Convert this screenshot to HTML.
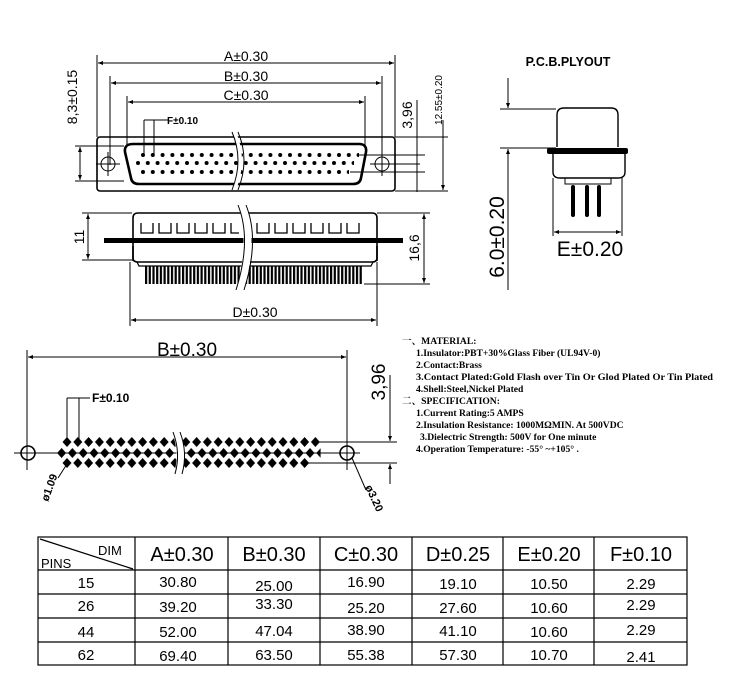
<!DOCTYPE html>
<html><head><meta charset="utf-8"><style>
html,body{margin:0;padding:0;background:#fff;}
svg{display:block;}
.t{font-family:"Liberation Sans",sans-serif;}
.s{font-family:"Liberation Serif","Noto Serif CJK SC",serif;font-weight:bold;font-size:9.6px;}
</style></head><body>
<svg width="750" height="700" viewBox="0 0 750 700" xmlns="http://www.w3.org/2000/svg">
<defs>
<marker id="ar" viewBox="0 0 10 10" refX="10" refY="5" markerWidth="8" markerHeight="5" orient="auto-start-reverse"><path d="M0,1 L10,5 L0,9z" fill="#000"/></marker>
<pattern id="d1" x="141" y="153" width="9.8" height="100" patternUnits="userSpaceOnUse"><circle cx="2" cy="2" r="2"/></pattern>
<pattern id="d2" x="136" y="161" width="9.8" height="100" patternUnits="userSpaceOnUse"><circle cx="2" cy="2" r="2"/></pattern>
<pattern id="d3" x="141" y="170" width="9.8" height="100" patternUnits="userSpaceOnUse"><circle cx="2" cy="2" r="2"/></pattern>
<pattern id="pins" x="145" y="0" width="3.7" height="30" patternUnits="userSpaceOnUse"><rect x="0" y="0" width="2.2" height="30" fill="#000"/></pattern>
<pattern id="b1" x="62" y="437" width="10.8" height="100" patternUnits="userSpaceOnUse"><path d="M5,0 L9.5,5 L5,10 L0.5,5z" fill="#000"/></pattern>
<pattern id="b2" x="56.6" y="448" width="10.8" height="100" patternUnits="userSpaceOnUse"><path d="M5,0 L9.5,5 L5,10 L0.5,5z" fill="#000"/></pattern>
<pattern id="b3" x="62" y="458" width="10.8" height="100" patternUnits="userSpaceOnUse"><path d="M5,0 L9.5,5 L5,10 L0.5,5z" fill="#000"/></pattern>
</defs>
<g stroke="#000" fill="none" stroke-width="1">
<line x1="97" y1="55" x2="97" y2="137"/><line x1="395" y1="55" x2="395" y2="137"/>
<line x1="98" y1="63" x2="394" y2="63" marker-start="url(#ar)" marker-end="url(#ar)"/>
<line x1="110" y1="76" x2="110" y2="165"/><line x1="382" y1="76" x2="382" y2="165"/>
<line x1="111" y1="83" x2="381" y2="83" marker-start="url(#ar)" marker-end="url(#ar)"/>
<line x1="127" y1="96" x2="127" y2="147"/><line x1="365" y1="96" x2="365" y2="147"/>
<line x1="128" y1="102" x2="364" y2="102" marker-start="url(#ar)" marker-end="url(#ar)"/>
<rect x="97" y="137" width="298" height="54" rx="3" stroke-width="1.6"/>
<path d="M133,144 L359,144 Q367,144 366,152 L361,178 Q360,184 353,184 L139,184 Q132,184 131,178 L125,152 Q124,144 133,144z" stroke-width="2.6"/>
<circle cx="108" cy="164" r="7"/><line x1="96" y1="164" x2="120" y2="164"/><line x1="108" y1="152" x2="108" y2="176"/>
<circle cx="382" cy="164" r="7"/><line x1="370" y1="164" x2="420" y2="164"/><line x1="382" y1="152" x2="382" y2="176"/>
<line x1="144" y1="120" x2="144" y2="155"/><line x1="154" y1="120" x2="154" y2="155"/><line x1="144" y1="120" x2="168" y2="120"/>
<line x1="75" y1="146" x2="124" y2="146"/><line x1="75" y1="181" x2="124" y2="181"/>
<line x1="80" y1="147" x2="80" y2="180" marker-start="url(#ar)" marker-end="url(#ar)"/>
<line x1="358" y1="155" x2="425" y2="155"/><line x1="350" y1="172" x2="425" y2="172"/>
<line x1="417" y1="100" x2="417" y2="192"/>
<line x1="395" y1="137" x2="448" y2="137"/><line x1="395" y1="191" x2="448" y2="191"/>
<line x1="443" y1="120" x2="443" y2="190" marker-end="url(#ar)"/>
</g>
<rect x="141" y="153" width="218" height="4" fill="url(#d1)"/>
<rect x="136" y="161" width="218" height="4" fill="url(#d2)"/>
<rect x="141" y="170" width="208" height="4" fill="url(#d3)"/>
<g stroke="#000" fill="none" stroke-width="1.2">
<path d="M133,261 L133,218 Q133,213 138,213 L372,213 Q377,213 377,218 L377,261" stroke-width="1.6"/>
<path d="M133,246 L133,258 Q133,262 138,262 L372,262 Q377,262 377,258 L377,246" stroke-width="1.6"/>
<path d="M137,262 L139,266 L371,266 L373,262"/>
<g stroke-width="1.3">
<path d="M141,223 v10 h12 v-10 M159,223 v10 h12 v-10 M177,223 v10 h12 v-10 M195,223 v10 h12 v-10 M213,223 v10 h12 v-10 M231,223 v10 h8 M257,223 v10 h12 v-10 M275,223 v10 h12 v-10 M293,223 v10 h12 v-10 M311,223 v10 h12 v-10 M329,223 v10 h12 v-10 M347,223 v10 h12 v-10"/>
</g>
<line x1="82" y1="213" x2="132" y2="213" stroke-width="1"/><line x1="82" y1="260" x2="132" y2="260" stroke-width="1"/>
<line x1="88" y1="214" x2="88" y2="259" stroke-width="1" marker-start="url(#ar)" marker-end="url(#ar)"/>
<line x1="377" y1="213" x2="430" y2="213" stroke-width="1"/><line x1="364" y1="284" x2="430" y2="284" stroke-width="1"/>
<line x1="424" y1="214" x2="424" y2="283" stroke-width="1" marker-start="url(#ar)" marker-end="url(#ar)"/>
<line x1="130" y1="262" x2="130" y2="326" stroke-width="1"/><line x1="377" y1="262" x2="377" y2="326" stroke-width="1"/>
<line x1="131" y1="320" x2="376" y2="320" stroke-width="1" marker-start="url(#ar)" marker-end="url(#ar)"/>
</g>
<rect x="104" y="238" width="299" height="5" fill="#000"/>
<rect x="145" y="266" width="218" height="18" fill="url(#pins)"/>
<path d="M232,132 Q244,160 232,190 L236,190 Q248,160 236,132z" fill="#fff"/>
<path d="M238,205 Q250,240 236,290 L244,290 Q258,240 246,205z" fill="#fff"/>
<g stroke="#000" fill="none" stroke-width="1"><path d="M232,132 Q244,160 232,190"/><path d="M238,132 Q250,160 238,190"/><path d="M238,205 Q252,240 236,290"/><path d="M246,205 Q260,240 244,290"/></g>
<g stroke="#000" fill="none" stroke-width="1.4">
<path d="M557,147 L557,115 Q557,108 564,108 L611,108 Q618,108 618,115 L618,147"/>
<path d="M553,153 L553,172 Q553,178 560,178 L618,178 Q625,178 625,172 L625,153"/>
<path d="M565,178 L565,184 L611,184 L611,178" stroke-width="1"/>
<line x1="500" y1="109" x2="556" y2="109" stroke-width="1"/><line x1="500" y1="148" x2="556" y2="148" stroke-width="1"/>
<line x1="508" y1="78" x2="508" y2="108" stroke-width="1" marker-end="url(#ar)"/>
<line x1="508" y1="290" x2="508" y2="149" stroke-width="1" marker-end="url(#ar)"/>
<line x1="553" y1="178" x2="553" y2="236" stroke-width="1"/><line x1="622" y1="178" x2="622" y2="236" stroke-width="1"/>
<line x1="554" y1="232" x2="621" y2="232" stroke-width="1" marker-start="url(#ar)" marker-end="url(#ar)"/>
</g>
<rect x="547" y="148" width="81" height="6" rx="2" fill="#000"/>
<rect x="571" y="185" width="4" height="32" rx="2" fill="#000"/>
<rect x="585" y="185" width="4" height="32" rx="2" fill="#000"/>
<rect x="597" y="185" width="4" height="32" rx="2" fill="#000"/>
<g stroke="#000" fill="none" stroke-width="1">
<line x1="27" y1="350" x2="27" y2="470"/><line x1="347" y1="350" x2="347" y2="470"/>
<line x1="28" y1="357" x2="346" y2="357" marker-start="url(#ar)" marker-end="url(#ar)"/>
<line x1="14" y1="453" x2="360" y2="453"/>
<circle cx="28" cy="453" r="7" stroke-width="1.6"/><circle cx="347" cy="453" r="7" stroke-width="1.6"/>
<line x1="67" y1="398" x2="67" y2="442"/><line x1="79" y1="398" x2="79" y2="442"/><line x1="67" y1="398" x2="90" y2="398"/>
<line x1="315" y1="442" x2="397" y2="442"/><line x1="302" y1="463" x2="397" y2="463"/>
<line x1="390" y1="375" x2="390" y2="441" marker-end="url(#ar)"/>
<line x1="390" y1="484" x2="390" y2="464" marker-end="url(#ar)"/>
<line x1="67" y1="464" x2="58" y2="478"/>
<line x1="352" y1="458" x2="366" y2="490"/>
</g>
<rect x="62" y="437" width="259" height="10" fill="url(#b1)"/>
<rect x="56.6" y="448" width="264" height="10" fill="url(#b2)"/>
<rect x="62" y="458" width="248" height="10" fill="url(#b3)"/>
<path d="M172,432 Q180,453 174,474 L182,474 Q188,453 180,432z" fill="#fff"/>
<g stroke="#000" fill="none"><path d="M173,432 Q181,453 175,474"/><path d="M180,432 Q188,453 182,474"/></g>
<g class="t" fill="#000" font-size="14" text-anchor="middle">
<text x="246" y="61">A±0.30</text>
<text x="246" y="81">B±0.30</text>
<text x="246" y="100">C±0.30</text>
<text x="255" y="317">D±0.30</text>
<text transform="translate(77,97) rotate(-90)">8,3±0.15</text>
<text transform="translate(412,115) rotate(-90)">3,96</text>
<text transform="translate(442,100) rotate(-90)" font-size="10">12.55±0.20</text>
<text transform="translate(84,237) rotate(-90)">11</text>
<text transform="translate(419,248) rotate(-90)">16,6</text>
<text x="590" y="256" font-size="21">E±0.20</text>
<text transform="translate(504,237) rotate(-90)" font-size="21">6.0±0.20</text>
<text x="568" y="66" font-size="12.5" font-weight="bold">P.C.B.PLYOUT</text>
<text x="187" y="356" font-size="19">B±0.30</text>
<text transform="translate(385,382) rotate(-90)" font-size="19">3,96</text>
</g>
<g class="t" fill="#000" font-size="10" font-weight="bold">
<text x="167" y="124">F±0.10</text>
<text x="92" y="402" font-size="12">F±0.10</text>
<text transform="translate(48,502) rotate(-70)" font-size="11">ø1.09</text>
<text transform="translate(365,487) rotate(65)" font-size="11">ø3.20</text>
</g>
<g class="s" fill="#000">
<text x="402" y="344">一、MATERIAL:</text>
<text x="416" y="356">1.Insulator:PBT+30%Glass Fiber (UL94V-0)</text>
<text x="416" y="368">2.Contact:Brass</text>
<text x="416" y="380" textLength="297" lengthAdjust="spacingAndGlyphs">3.Contact Plated:Gold Flash over Tin Or Glod Plated Or Tin Plated</text>
<text x="416" y="392">4.Shell:Steel,Nickel Plated</text>
<text x="402" y="404">二、SPECIFICATION:</text>
<text x="416" y="416">1.Current Rating:5 AMPS</text>
<text x="416" y="428">2.Insulation Resistance: 1000MΩMIN. At 500VDC</text>
<text x="420" y="440">3.Dielectric Strength: 500V for One minute</text>
<text x="416" y="452">4.Operation Temperature: -55° ~+105° .</text>
</g>
<g stroke="#000" fill="none" stroke-width="1.2">
<rect x="38" y="537" width="649" height="128"/>
<line x1="38" y1="570" x2="687" y2="570"/><line x1="38" y1="594" x2="687" y2="594"/>
<line x1="38" y1="618" x2="687" y2="618"/><line x1="38" y1="642" x2="687" y2="642"/>
<line x1="135" y1="537" x2="135" y2="665"/><line x1="228" y1="537" x2="228" y2="665"/>
<line x1="320" y1="537" x2="320" y2="665"/><line x1="412" y1="537" x2="412" y2="665"/>
<line x1="503" y1="537" x2="503" y2="665"/><line x1="594" y1="537" x2="594" y2="665"/>
<line x1="40" y1="539" x2="133" y2="569"/>
</g>
<g class="t" fill="#000" font-size="20" text-anchor="middle">
<text x="182" y="561">A±0.30</text><text x="274" y="561">B±0.30</text><text x="366" y="561">C±0.30</text>
<text x="458" y="561">D±0.25</text><text x="549" y="561">E±0.20</text><text x="641" y="561">F±0.10</text>
</g>
<g class="t" fill="#000" font-size="13">
<text x="98" y="555">DIM</text><text x="41" y="568">PINS</text>
</g>
<g class="t" fill="#000" font-size="15" text-anchor="middle">
<text x="86" y="588">15</text><text x="178" y="587">30.80</text><text x="274" y="591">25.00</text><text x="366" y="587">16.90</text><text x="458" y="589">19.10</text><text x="549" y="589">10.50</text><text x="641" y="589">2.29</text>
<text x="86" y="611">26</text><text x="178" y="612">39.20</text><text x="274" y="609">33.30</text><text x="366" y="613">25.20</text><text x="458" y="613">27.60</text><text x="549" y="613">10.60</text><text x="641" y="610">2.29</text>
<text x="86" y="637">44</text><text x="178" y="637">52.00</text><text x="274" y="636">47.04</text><text x="366" y="635">38.90</text><text x="458" y="636">41.10</text><text x="549" y="637">10.60</text><text x="641" y="635">2.29</text>
<text x="86" y="660">62</text><text x="178" y="661">69.40</text><text x="274" y="660">63.50</text><text x="366" y="660">55.38</text><text x="458" y="660">57.30</text><text x="549" y="660">10.70</text><text x="641" y="662">2.41</text>
</g>
</svg>
</body></html>
